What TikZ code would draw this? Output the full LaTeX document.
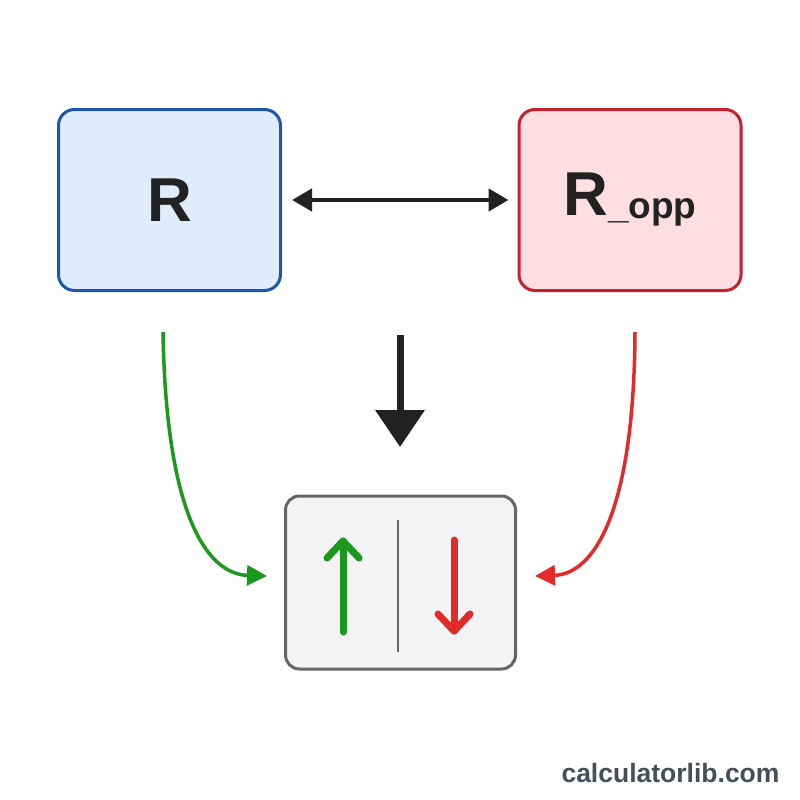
\documentclass[tikz,border=0pt]{standalone}
\usepackage{fontspec}
\setmainfont{Liberation Sans}
\usetikzlibrary{arrows.meta}
\definecolor{bfill}{RGB}{222,236,252}
\definecolor{bline}{RGB}{30,86,172}
\definecolor{rfill}{RGB}{253,222,226}
\definecolor{rline}{RGB}{200,32,46}
\definecolor{gfill}{RGB}{243,243,246}
\definecolor{gline}{RGB}{102,102,106}
\definecolor{ink}{RGB}{34,34,34}
\definecolor{grn}{RGB}{28,152,30}
\definecolor{red2}{RGB}{226,42,42}
\definecolor{wm}{RGB}{70,78,92}
\tikzset{
  box/.style={rounded corners=16pt, line width=3pt, minimum width=222pt, minimum height=181pt, inner sep=0pt},
  curvy/.style={line width=3.5pt, -{Triangle[length=20pt,width=20pt]}},
  icon/.style={line width=7pt, line cap=round, line join=round}
}
\begin{document}
\begin{tikzpicture}[x=1pt,y=-1pt]
\useasboundingbox[fill=white] (0,0) rectangle (800,800);
\node[box, draw=bline, fill=bfill] (r) at (169.5,200) {};
\node[font=\bfseries\fontsize{62}{62}\selectfont, text=ink] at (r.center) {R};
\node[box, draw=rline, fill=rfill] (ro) at (630,200) {};
\node[text=ink, anchor=center] at (630,200) {{\bfseries\fontsize{62}{62}\selectfont R}\raisebox{-3pt}{\bfseries\fontsize{37}{37}\selectfont\_opp}};
\node[box, draw=gline, fill=gfill, minimum width=230pt, minimum height=173pt, rounded corners=14pt] (res) at (400.5,582.5) {};
% double arrow
\draw[ink, line width=4.5pt, {Triangle[length=20pt,width=22pt]}-{Triangle[length=20pt,width=22pt]}] ([xshift=10pt]r.east) -- ([xshift=-9pt]ro.west);
% thick down arrow
\coordinate (dtop) at (400,335);
\coordinate (dbot) at (400,447);
\draw[ink, line width=7pt, -{Triangle[length=37pt,width=48pt]}] (dtop) -- (dbot);
% curved arrows
\coordinate (gs) at (163,332);
\coordinate (ge) at (267,576);
\coordinate (rs) at (635,332);
\coordinate (re) at (535,576);
\draw[grn, curvy] (gs) .. controls (166,510) and (205,574) .. (ge);
\draw[red2, curvy] (rs) .. controls (634,510) and (595,574) .. (re);
% divider
\draw[gline, line width=2pt] (398,520) -- (398,652);
% icons
\draw[grn, icon] (343,632) -- (343,541);
\draw[grn, icon] (327,558) -- (343,541) -- (359,558);
\draw[red2, icon] (454,540) -- (454,631);
\draw[red2, icon] (438,614) -- (454,631) -- (470,614);
% watermark
\node[font=\bfseries\fontsize{26.5}{26.5}\selectfont, text=wm, anchor=east] (wmk) at (783,773) {calculatorlib.com};
\end{tikzpicture}
\end{document}
